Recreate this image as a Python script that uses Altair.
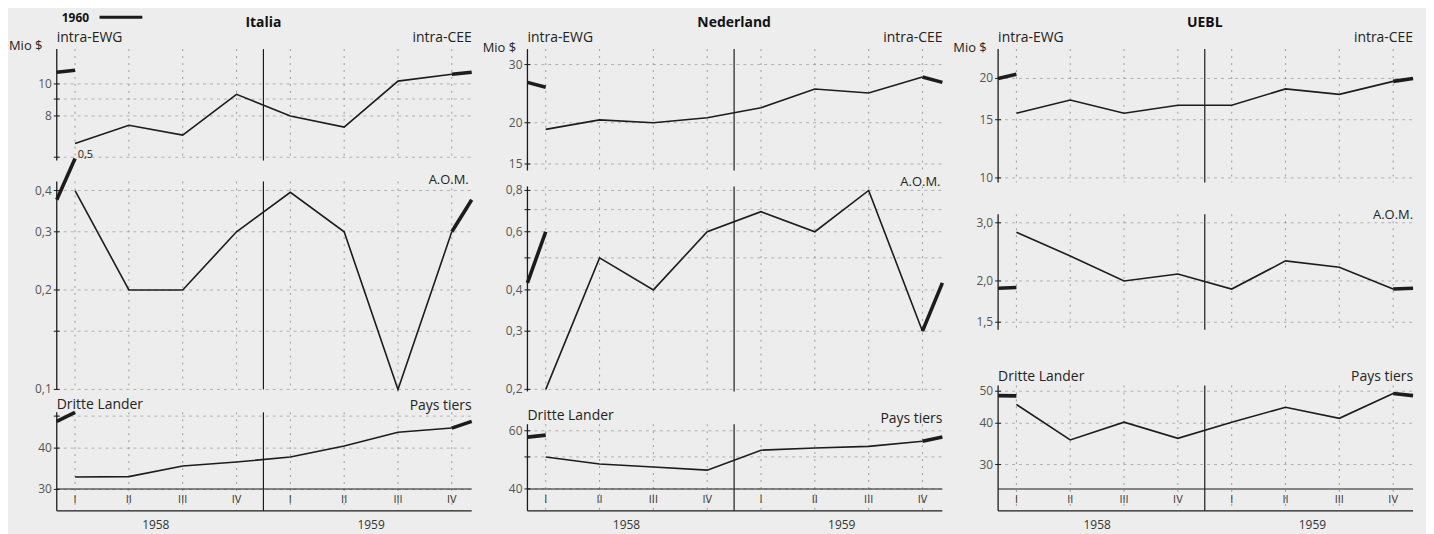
import altair as alt
import pandas as pd

# ---------------- data ----------------
quarters = [1, 2, 3, 4, 5, 6, 7, 8]
quarter_labels = ["I", "II", "III", "IV", "I", "II", "III", "IV"]
year_pos = [2.5, 6.5]
year_labels = ["1958", "1959"]
countries = ["Italia", "Nederland", "UEBL"]

italia_intra = [6.6, 7.5, 7.0, 9.3, 8.0, 7.4, 10.2, 10.7]
italia_aom = [0.40, 0.20, 0.20, 0.30, 0.395, 0.30, 0.10, 0.30]
italia_dritte = [32.7, 32.8, 35.3, 36.3, 37.6, 40.6, 44.7, 46.0]

nl_intra = [19.1, 20.4, 20.0, 20.7, 22.2, 25.3, 24.6, 27.5]
nl_aom = [0.20, 0.50, 0.40, 0.60, 0.69, 0.60, 0.80, 0.30]
nl_dritte = [50.0, 47.6, 46.6, 45.6, 52.4, 53.2, 53.8, 55.8]

uebl_intra = [15.7, 17.2, 15.7, 16.6, 16.6, 18.6, 17.9, 19.6]
uebl_aom = [2.81, 2.38, 2.00, 2.10, 1.89, 2.30, 2.20, 1.89]
uebl_dritte = [45.6, 35.6, 40.3, 36.0, 40.3, 44.7, 41.4, 49.2]

# 1960, quarters I and II (thick line)
italia_intra_1960 = [10.85, 11.0]
italia_aom_1960 = [0.375, 0.50]
italia_dritte_1960 = [48.2, 51.3]
nl_intra_1960 = [26.5, 25.6]
nl_aom_1960 = [0.42, 0.60]
nl_dritte_1960 = [57.4, 58.2]
uebl_intra_1960 = [20.0, 20.6]
uebl_aom_1960 = [1.90, 1.91]
uebl_dritte_1960 = [48.5, 48.4]

# ---------------- layout / style ----------------
K = 332.0               # px per decade (common log scale)
XMIN, XMAX = 0.66, 8.37
W = 417
TOP, BOTTOM = 8, 512    # page rows of the plot area
H = BOTTOM - TOP
INK = "#1c1c1c"
GRID = "#8a8a8a"
FONT = "Open Sans"

xsc = alt.Scale(domain=[XMIN, XMAX], nice=False, zero=False)


def py(page_y):
    return page_y - TOP


def log_domain(anchor_v, anchor_p):
    lo = anchor_v * 10 ** ((anchor_p - BOTTOM) / K)
    hi = anchor_v * 10 ** ((anchor_p - TOP) / K)
    return [lo, hi]


def fmt(v, dec):
    return f"{v:.1f}".replace(".", ",") if dec else f"{int(round(v))}"


def text_layer(t, xpos, ypage, align, size, weight="normal", color="#222"):
    return alt.Chart(pd.DataFrame({"t": [t]})).mark_text(
        font=FONT, fontSize=size, fontWeight=weight, color=color,
        align=align, baseline="middle").encode(
        x=alt.value(xpos), y=alt.value(py(ypage)), text="t:N")


def panel(values, v1960, ticks, labeled, dec, anchor, span, texts):
    ysc = alt.Scale(type="log", domain=log_domain(*anchor), nice=False)
    Y = lambda: alt.Y("v:Q", scale=ysc, axis=None)
    X = lambda: alt.X("x:Q", scale=xsc, axis=None)
    s_top, s_bot = py(span[0]), py(span[1])

    df = pd.DataFrame({"x": quarters, "v": values})
    df60 = pd.DataFrame({
        "x": [XMIN, 1, 8, XMAX],
        "v": [v1960[0], v1960[1], values[-1], v1960[0]],
        "seg": ["a", "a", "b", "b"],
    })
    tick_df = pd.DataFrame({"v": ticks,
                            "lab": [fmt(v, dec) if v in labeled else "" for v in ticks]})

    layers = [
        alt.Chart(tick_df).mark_rule(color=GRID, strokeDash=[3, 4], strokeWidth=1, opacity=0.6).encode(
            y=Y(), x=alt.value(0), x2=alt.value(W)),
        alt.Chart(tick_df).mark_rule(color=INK, strokeWidth=1).encode(
            y=Y(), x=alt.value(-3), x2=alt.value(3)),
        alt.Chart(tick_df).mark_text(font=FONT, fontSize=12, color="#555", align="right",
                                     baseline="middle").encode(
            y=Y(), x=alt.value(-5), text="lab:N"),
        alt.Chart(pd.DataFrame({"x": quarters})).mark_rule(
            color=GRID, strokeDash=[2, 5], strokeWidth=1, opacity=0.8).encode(
            x=X(), y=alt.value(s_top), y2=alt.value(s_bot)),
        alt.Chart(pd.DataFrame({"x": [4.5]})).mark_rule(color=INK, strokeWidth=1.2).encode(
            x=X(), y=alt.value(s_top), y2=alt.value(s_bot)),
        alt.Chart(pd.DataFrame({"x": [0]})).mark_rule(color=INK, strokeWidth=1.3).encode(
            x=alt.value(0), y=alt.value(s_top), y2=alt.value(s_bot)),
        alt.Chart(df).mark_line(color=INK, strokeWidth=1.6).encode(x=X(), y=Y()),
        alt.Chart(df60).mark_line(color=INK, strokeWidth=3.6).encode(x=X(), y=Y(), detail="seg:N"),
    ]
    for (t, xpos, ypage, align, size) in texts:
        layers.append(text_layer(t, xpos, ypage, align, size))
    return alt.layer(*layers)


def column(name, series, s1960, conf, legend=False):
    panels = []
    for i in range(3):
        c = conf[i]
        panels.append(panel(series[i], s1960[i], c["ticks"], c["lab"], c["dec"],
                            c["anchor"], c["span"], c["texts"]))

    X = lambda: alt.X("x:Q", scale=xsc, axis=None)
    qdf = pd.DataFrame({"x": quarters, "lab": quarter_labels})
    ydf = pd.DataFrame({"x": year_pos, "lab": year_labels})
    extras = [
        alt.Chart(qdf).mark_text(font=FONT, fontSize=11, color="#333", baseline="middle").encode(
            x=X(), y=alt.value(py(501)), text="lab:N"),
        alt.Chart(ydf).mark_text(font=FONT, fontSize=12, color="#333", baseline="middle").encode(
            x=X(), y=alt.value(py(526)), text="lab:N"),
        alt.Chart(pd.DataFrame({"x": [0]})).mark_rule(color=INK, strokeWidth=1.1).encode(
            x=alt.value(0), x2=alt.value(W), y=alt.value(py(490))),
        alt.Chart(pd.DataFrame({"x": [0]})).mark_rule(color=INK, strokeWidth=1.3).encode(
            x=alt.value(0), x2=alt.value(W), y=alt.value(py(512))),
        alt.Chart(pd.DataFrame({"x": [4.5], "t": [name]})).mark_text(
            font=FONT, fontSize=14, fontWeight="bold", color="#111", baseline="middle").encode(
            x=X(), y=alt.value(py(22)), text="t:N"),
    ]
    if legend:
        extras.append(text_layer("1960", 5, 17, "left", 12, weight="bold", color="#111"))
        extras.append(alt.Chart(pd.DataFrame({"t": ["1960"]})).mark_rule(
            color=INK, strokeWidth=3).encode(x=alt.value(43), x2=alt.value(86), y=alt.value(py(16))))
    return alt.layer(*panels, *extras).resolve_scale(y="independent").properties(width=W, height=H)


it_conf = [
    dict(ticks=[6, 8, 9, 10], lab=[8, 10], dec=False, anchor=(10, 83), span=(48, 160),
         texts=[("Mio $", -48, 45, "left", 13), ("intra-EWG", 0, 37, "left", 14),
                ("intra-CEE", W, 37, "right", 14), ("0,5", 21, 154, "left", 11)]),
    dict(ticks=[0.1, 0.15, 0.2, 0.3, 0.4], lab=[0.1, 0.2, 0.3, 0.4], dec=True,
         anchor=(0.1, 390), span=(181, 390),
         texts=[("A.O.M.", W - 3, 180, "right", 13)]),
    dict(ticks=[30, 40, 50], lab=[30, 40], dec=False, anchor=(40, 449), span=(413, 512),
         texts=[("Dritte Lander", 0, 406, "left", 14), ("Pays tiers", W, 407, "right", 14)]),
]
nl_conf = [
    dict(ticks=[15, 20, 30], lab=[15, 20, 30], dec=False, anchor=(20, 122), span=(48, 170),
         texts=[("Mio $", -45, 47, "left", 13), ("intra-EWG", 0, 37, "left", 14),
                ("intra-CEE", W, 37, "right", 14)]),
    dict(ticks=[0.2, 0.3, 0.4, 0.5, 0.6, 0.7, 0.8], lab=[0.2, 0.3, 0.4, 0.6, 0.8], dec=True,
         anchor=(0.4, 290), span=(186, 392),
         texts=[("A.O.M.", W - 2, 182, "right", 13)]),
    dict(ticks=[40, 50, 60], lab=[40, 60], dec=False, anchor=(40, 490), span=(425, 512),
         texts=[("Dritte Lander", 0, 417, "left", 14), ("Pays tiers", W, 420, "right", 14)]),
]
ue_conf = [
    dict(ticks=[10, 15, 20], lab=[10, 15, 20], dec=False, anchor=(20, 77.5), span=(48, 182),
         texts=[("Mio $", -45, 47, "left", 13), ("intra-EWG", 0, 37, "left", 14),
                ("intra-CEE", W, 37, "right", 14)]),
    dict(ticks=[1.5, 2.0, 3.0], lab=[1.5, 2.0, 3.0], dec=True, anchor=(2.0, 281), span=(214, 330),
         texts=[("A.O.M.", W, 215, "right", 13)]),
    dict(ticks=[30, 40, 50], lab=[30, 40, 50], dec=False, anchor=(40, 424), span=(386, 512),
         texts=[("Dritte Lander", 0, 378, "left", 14), ("Pays tiers", W, 378, "right", 14)]),
]

c1 = column(countries[0], [italia_intra, italia_aom, italia_dritte],
            [italia_intra_1960, italia_aom_1960, italia_dritte_1960], it_conf, legend=True)
c2 = column(countries[1], [nl_intra, nl_aom, nl_dritte],
            [nl_intra_1960, nl_aom_1960, nl_dritte_1960], nl_conf)
c3 = column(countries[2], [uebl_intra, uebl_aom, uebl_dritte],
            [uebl_intra_1960, uebl_aom_1960, uebl_dritte_1960], ue_conf)

chart = alt.hconcat(c1, c2, c3, spacing=56, bounds="flush").properties(
    background="#ededed",
    padding={"left": 1, "top": 0, "right": 5, "bottom": 5},
).configure_view(stroke=None)

chart.save("out.html", embed_options={"renderer": "svg", "actions": False})
